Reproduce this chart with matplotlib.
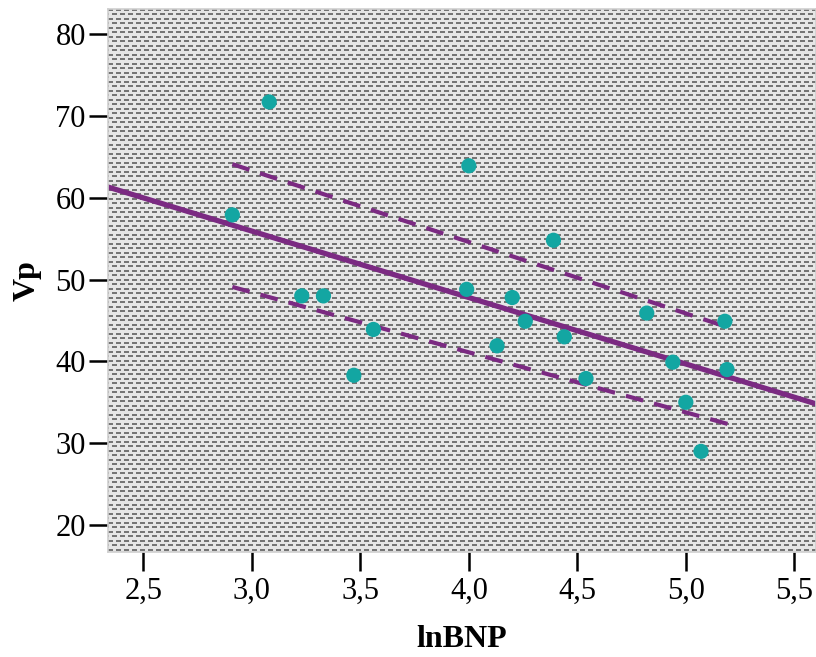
import matplotlib
matplotlib.use("Agg")
import matplotlib.pyplot as plt
import numpy as np

# lnBNP vs Vp
ln_bnp = [2.91, 3.08, 3.23, 3.33, 3.47, 3.56, 3.99, 4.00, 4.13, 4.20,
          4.26, 4.39, 4.44, 4.54, 4.82, 4.94, 5.00, 5.07, 5.18, 5.19]
vp = [57.9, 71.7, 48.0, 48.0, 38.3, 43.9, 48.8, 63.9, 41.9, 47.8,
      44.9, 54.8, 43.0, 37.9, 45.9, 39.9, 35.0, 29.0, 44.9, 39.0]

# fit line (total) and the two dashed lines
fit_slope = -8.12
fit_intercept = 80.28
upper_x = [2.91, 5.19]
upper_y = [64.1, 44.2]
lower_x = [2.91, 5.20]
lower_y = [49.1, 32.3]

xticks = [2.5, 3.0, 3.5, 4.0, 4.5, 5.0, 5.5]
yticks = [20, 30, 40, 50, 60, 70, 80]
xlim = (2.337, 5.600)
ylim = (16.74, 83.06)

purple = '#7b2a82'
teal = '#13a6a2'

plt.rcParams['font.family'] = ['Liberation Serif', 'DejaVu Serif']

fig = plt.figure(figsize=(8.16, 6.57), dpi=100)
ax = fig.add_axes([108/816, 1-551.7/657, 1-108/816, (551.7-9)/657])

# dotted grey fill behind the plot
w, h = 708, 543
pat = np.full((h, w), 0.90)
rows = np.arange(h)[:, None]
cols = np.arange(w)[None, :]
r = rows % 9
dark = ((r < 2) & (cols % 8 < 5)) | ((r >= 4) & (r < 6) & ((cols + 4) % 8 < 5))
pat[dark] = 0.46
ax.imshow(pat, cmap='gray', vmin=0, vmax=1, extent=(xlim[0], xlim[1], ylim[0], ylim[1]),
          aspect='auto', interpolation='nearest', zorder=0)

xs = np.array(xlim)
ax.plot(xs, fit_intercept + fit_slope * xs, color=purple, lw=3.8, zorder=2, solid_capstyle='butt')
ax.plot(upper_x, upper_y, color=purple, lw=3.0, linestyle=(0, (4.3, 2.7)), zorder=2)
ax.plot(lower_x, lower_y, color=purple, lw=3.0, linestyle=(0, (4.3, 2.7)), zorder=2)
ax.scatter(ln_bnp, vp, s=120, color=teal, edgecolors='none', zorder=3)

ax.set_xlim(xlim)
ax.set_ylim(ylim)
ax.set_xticks(xticks)
ax.set_xticklabels([('%.1f' % t).replace('.', ',') for t in xticks])
ax.set_yticks(yticks)
ax.set_yticklabels([str(t) for t in yticks])
ax.tick_params(axis='both', direction='out', length=14, width=1.8, labelsize=22, color='black')
ax.tick_params(axis='y', pad=2)
ax.tick_params(axis='x', pad=4)

for s in ax.spines.values():
    s.set_color('#cfcfcf')
    s.set_linewidth(1.2)

ax.set_xlabel('lnBNP', fontsize=23, fontweight='bold', labelpad=14)
ax.set_ylabel('Vp', fontsize=23, fontweight='bold', labelpad=10)

fig.savefig('out.png', dpi=100)
